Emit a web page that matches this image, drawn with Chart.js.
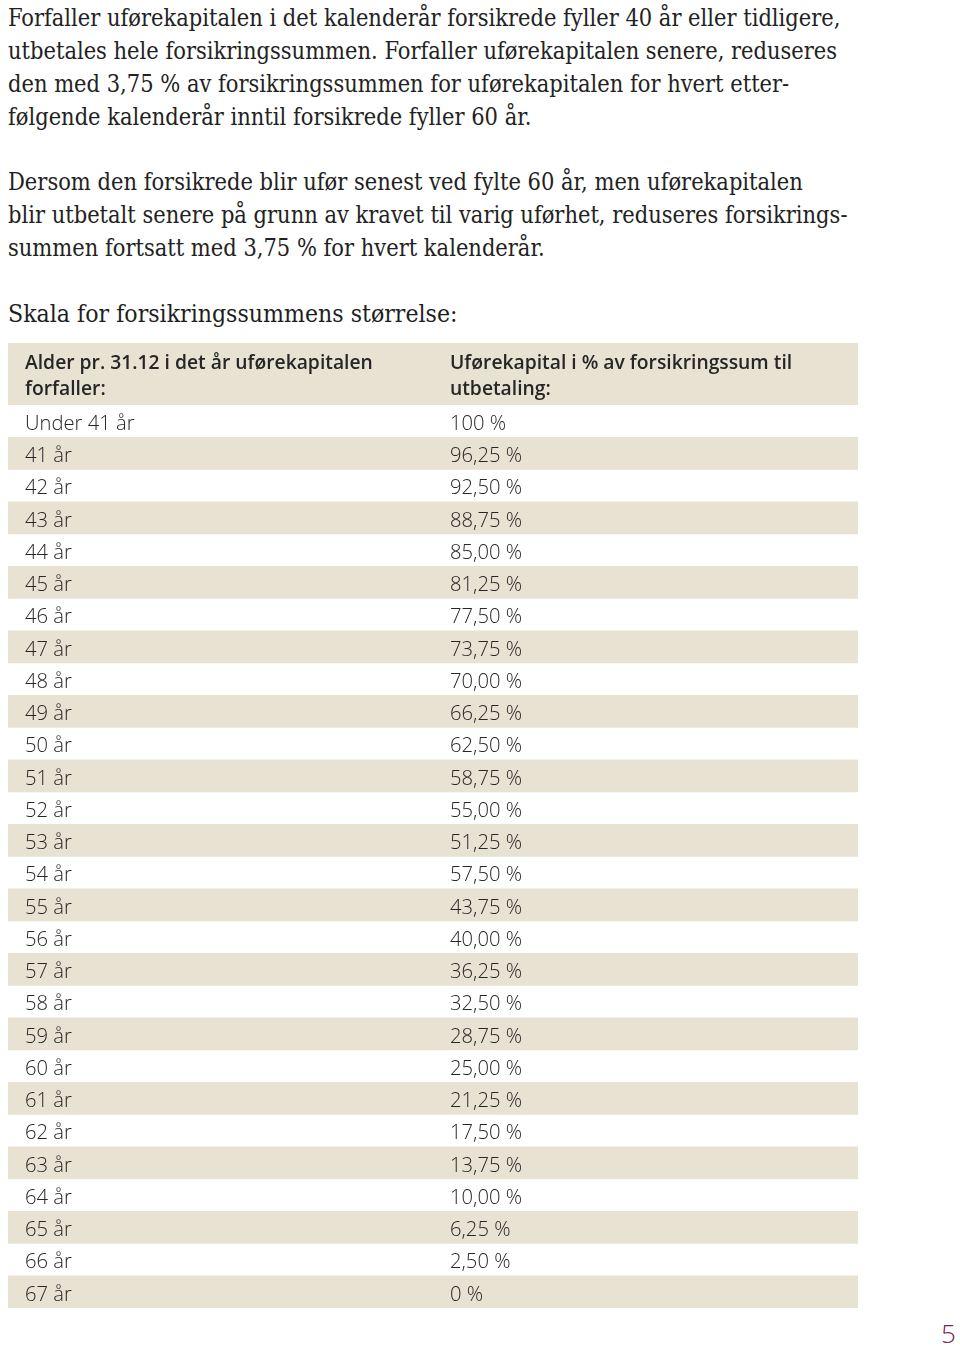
<!DOCTYPE html>
<html>
<head>
<meta charset="utf-8">
<script src="https://cdn.jsdelivr.net/npm/chart.js@4.4.1/dist/chart.umd.min.js"></script>
<style>
  html, body { margin:0; padding:0; background:#ffffff; width:960px; height:1353px; overflow:hidden; }
  .txt { position:absolute; left:8px; font-family:"DejaVu Serif Condensed","DejaVu Serif",serif; font-stretch:condensed;
         font-size:23.4px; line-height:33px; color:#222222; white-space:nowrap; }
  .head { font-size:24.6px; color:#1e1e1e; }
  canvas { position:absolute; left:8px; }
  #pg { position:absolute; left:941px; top:1318px; font-family:"Open Sans",sans-serif; font-weight:300; font-size:26px; line-height:30px; color:#7b2350; }
</style>
</head>
<body>
<div class="txt" style="top:1.5px">Forfaller uførekapitalen i det kalenderår forsikrede fyller 40 år eller tidligere,<br>utbetales hele forsikringssummen. Forfaller uførekapitalen senere, reduseres<br>den med 3,75 % av forsikringssummen for uførekapitalen for hvert etter-<br>følgende kalenderår inntil forsikrede fyller 60 år.</div>
<div class="txt" style="top:165.5px">Dersom den forsikrede blir ufør senest ved fylte 60 år, men uførekapitalen<br>blir utbetalt senere på grunn av kravet til varig uførhet, reduseres forsikrings-<br>summen fortsatt med 3,75 % for hvert kalenderår.</div>
<div class="txt head" style="top:297px">Skala for forsikringssummens størrelse:</div>

<canvas id="headChart" width="850" height="62" style="top:343px"></canvas>
<canvas id="rowChart" width="850" height="903" style="top:405px"></canvas>
<div id="pg">5</div>

<script>
// ---- data ----
const headerAge = ["Alder pr. 31.12 i det år uførekapitalen", "forfaller:"];
const headerPayout = ["Uførekapital i % av forsikringssum til", "utbetaling:"];
const ages = ["Under 41 år", "41 år", "42 år", "43 år", "44 år", "45 år", "46 år", "47 år", "48 år", "49 år",
              "50 år", "51 år", "52 år", "53 år", "54 år", "55 år", "56 år", "57 år", "58 år", "59 år",
              "60 år", "61 år", "62 år", "63 år", "64 år", "65 år", "66 år", "67 år"];
const payouts = ["100 %", "96,25 %", "92,50 %", "88,75 %", "85,00 %", "81,25 %", "77,50 %", "73,75 %", "70,00 %", "66,25 %",
                 "62,50 %", "58,75 %", "55,00 %", "51,25 %", "57,50 %", "43,75 %", "40,00 %", "36,25 %", "32,50 %", "28,75 %",
                 "25,00 %", "21,25 %", "17,50 %", "13,75 %", "10,00 %", "6,25 %", "2,50 %", "0 %"];

// ---- styles ----
const BEIGE = "#e8e2d3";
const TEXT = "#262626";
const TABLE_WIDTH = 850;
const COL_X = [17, 442];

const tableText = {
  id: "tableText",
  afterDatasetsDraw(chart, args, opts) {
    const { ctx, scales: { x, y } } = chart;
    ctx.save();
    ctx.font = opts.font;
    ctx.fillStyle = opts.color;
    ctx.textAlign = "left";
    ctx.textBaseline = "alphabetic";
    opts.columns.forEach((col, c) => {
      const px = x.getPixelForValue(COL_X[c]);
      if (opts.multiLine) {
        col.forEach((line, k) => {
          ctx.fillText(line, px, y.getPixelForValue(0) + opts.lineShift[k]);
        });
      } else {
        col.forEach((label, i) => {
          ctx.fillText(label, px, y.getPixelForValue(i) + opts.baselineShift);
        });
      }
    });
    ctx.restore();
  }
};

const baseOptions = (extra) => ({
  indexAxis: "y",
  responsive: false,
  animation: false,
  events: [],
  layout: { padding: 0 },
  scales: {
    x: { type: "linear", min: 0, max: TABLE_WIDTH, display: false },
    y: { type: "category", display: false }
  },
  plugins: Object.assign({ legend: { display: false }, tooltip: { enabled: false } }, extra)
});

new Chart(document.getElementById("headChart"), {
  type: "bar",
  data: {
    labels: ["header"],
    datasets: [{
      data: [[0, TABLE_WIDTH]],
      backgroundColor: BEIGE,
      borderWidth: 0,
      barPercentage: 1,
      categoryPercentage: 1
    }]
  },
  options: baseOptions({
    tableText: {
      font: "600 19.3px 'Open Sans', sans-serif",
      color: TEXT,
      multiLine: true,
      lineShift: [-5, 21],
      columns: [headerAge, headerPayout]
    }
  }),
  plugins: [tableText]
});

new Chart(document.getElementById("rowChart"), {
  type: "bar",
  data: {
    labels: ages,
    datasets: [{
      data: ages.map(() => [0, TABLE_WIDTH]),
      backgroundColor: ages.map((_, i) => (i % 2 === 1 ? BEIGE : "rgba(255,255,255,0)")),
      borderWidth: 0,
      barPercentage: 1,
      categoryPercentage: 1
    }]
  },
  options: baseOptions({
    tableText: {
      font: "300 20.2px 'Open Sans', sans-serif",
      color: TEXT,
      multiLine: false,
      baselineShift: 8.7,
      columns: [ages, payouts]
    }
  }),
  plugins: [tableText]
});
</script>
</body>
</html>
